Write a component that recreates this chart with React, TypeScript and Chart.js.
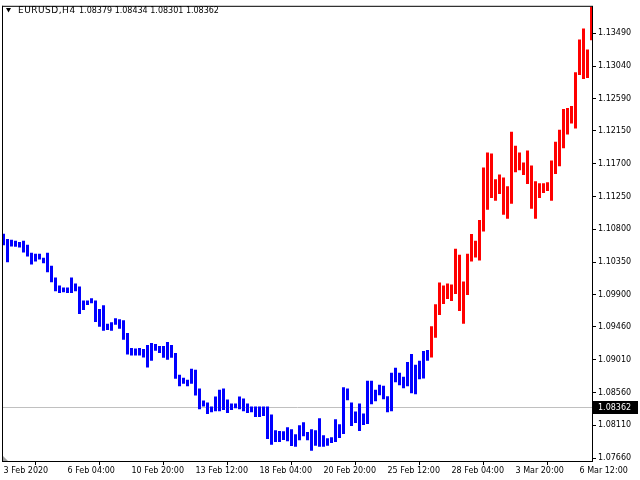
import React, { useEffect, useRef } from "react";
import { Chart, registerables } from "chart.js";

Chart.register(...registerables);

// ---- data -----------------------------------------------------------------
const highs = [
  1.1074, 1.10668, 1.10655, 1.10641, 1.10627, 1.10641, 1.10587, 1.10478, 1.10464, 1.10464,
  1.1041, 1.10478, 1.10301, 1.10137, 1.10029, 1.10001, 1.10001, 1.10137, 1.10056, 1.10015,
  1.09824, 1.09824, 1.09852, 1.09824, 1.09706, 1.09756, 1.09502, 1.09525, 1.09579, 1.09566,
  1.09552, 1.09375, 1.09171, 1.09162, 1.09171, 1.09157, 1.09212, 1.09239, 1.09225, 1.09198,
  1.09198, 1.09253, 1.09212, 1.09103, 1.08803, 1.08763, 1.08735, 1.08885, 1.08872, 1.08613,
  1.0845, 1.08422, 1.08368, 1.08504, 1.08599, 1.08613, 1.08463, 1.08409, 1.08409, 1.08504,
  1.08477, 1.08409, 1.08368, 1.08368, 1.08368, 1.08368, 1.08368, 1.08259, 1.08041, 1.08032,
  1.08028, 1.08082, 1.08055, 1.07987, 1.08109, 1.0815, 1.08018, 1.08055, 1.08041, 1.08205,
  1.07973, 1.07932, 1.07946, 1.08191, 1.08123, 1.08631, 1.08613, 1.08422, 1.083, 1.08409,
  1.08273, 1.08722, 1.08722, 1.08599, 1.08667, 1.08654, 1.08508, 1.08831, 1.08899, 1.08831,
  1.08776, 1.0898, 1.09089, 1.0894, 1.08994, 1.0913, 1.09144, 1.0947, 1.0977, 1.10069,
  1.10029, 1.10056, 1.10042, 1.10532, 1.1045, 1.10083, 1.10464, 1.10736, 1.10641, 1.10927,
  1.11648, 1.11852, 1.11839, 1.11485, 1.11553, 1.11512, 1.1139, 1.12138, 1.11948, 1.11852,
  1.11716, 1.1188, 1.11675, 1.11458, 1.1143, 1.1143, 1.11444, 1.11743, 1.12002, 1.12165,
  1.12451, 1.12465, 1.12492, 1.12955, 1.13404, 1.13554, 1.13268, 1.139,
];

const lows = [
  1.10582, 1.10346, 1.10563, 1.10559, 1.1055, 1.10482, 1.10427, 1.10318, 1.10359, 1.10386,
  1.10332, 1.1021, 1.10073, 1.09951, 1.09924, 1.09937, 1.09924, 1.09924, 1.09951, 1.09638,
  1.09692, 1.0976, 1.09784, 1.09529, 1.09461, 1.09407, 1.09416, 1.09407, 1.09488, 1.09434,
  1.09284, 1.0908, 1.09066, 1.09066, 1.09066, 1.09039, 1.08903, 1.08994, 1.09134, 1.09103,
  1.09035, 1.09008, 1.09035, 1.08749, 1.08644, 1.08681, 1.08644, 1.08681, 1.08518, 1.08331,
  1.08368, 1.08263, 1.0829, 1.08304, 1.08304, 1.08318, 1.08277, 1.08318, 1.08345, 1.08331,
  1.08304, 1.08277, 1.0829, 1.08222, 1.08222, 1.08236, 1.07923, 1.07841, 1.07882, 1.07882,
  1.07909, 1.07892, 1.07824, 1.07814, 1.07905, 1.0796, 1.07905, 1.0776, 1.0783, 1.07814,
  1.07814, 1.07828, 1.07868, 1.07882, 1.07936, 1.07991, 1.08454, 1.081, 1.08141, 1.08032,
  1.08113, 1.08127, 1.08399, 1.0844, 1.08522, 1.08467, 1.0829, 1.08304, 1.08699, 1.08658,
  1.08617, 1.08644, 1.08549, 1.08535, 1.0874, 1.08753, 1.08997, 1.09039, 1.09311, 1.09624,
  1.09774, 1.09842, 1.09815, 1.0991, 1.09679, 1.09502, 1.09897, 1.10359, 1.10414, 1.10373,
  1.10768, 1.11067, 1.1123, 1.1119, 1.11285, 1.10999, 1.10945, 1.11149, 1.11584, 1.11611,
  1.11545, 1.11421, 1.11081, 1.10945, 1.1123, 1.11298, 1.11326, 1.1119, 1.11557, 1.11666,
  1.11911, 1.12101, 1.12251, 1.12183, 1.12918, 1.12864, 1.12877, 1.13395,
];

const RED_FROM = 107; // bars from this index on are drawn red

const xTickIndex = [0, 16, 32, 48, 64, 80, 96, 112, 128, 144];
const xTickLabels = [
  "3 Feb 2020",
  "6 Feb 04:00",
  "10 Feb 20:00",
  "13 Feb 12:00",
  "18 Feb 04:00",
  "20 Feb 20:00",
  "25 Feb 12:00",
  "28 Feb 04:00",
  "3 Mar 20:00",
  "6 Mar 12:00",
];

const yTicks = [
  1.0766, 1.0811, 1.0856, 1.0901, 1.0946, 1.099, 1.1035, 1.108, 1.1125, 1.117,
  1.1215, 1.1259, 1.1304, 1.1349,
];

const symbolLabel = "EURUSD,H4";
const ohlcLabel = ["1.08379", "1.08434", "1.08301", "1.08362"];
const currentPrice = 1.08362;

const Y_MIN = 1.076196;
const Y_MAX = 1.138534;
const X_MIN = -0.125;
const X_MAX = 147.125;

const FONT = "DejaVu Sans";

// ---- decorations plugin -------------------------------------------------
const decor = {
  id: "mtDecor",
  beforeDatasetsDraw(chart: any) {
    const { ctx, chartArea } = chart;
    const y = Math.round(chart.scales.y.getPixelForValue(currentPrice)) + 0.5;
    ctx.save();
    ctx.strokeStyle = "#c0c0c0";
    ctx.lineWidth = 1;
    ctx.beginPath();
    ctx.moveTo(chartArea.left, y);
    ctx.lineTo(chartArea.right, y);
    ctx.stroke();
    ctx.restore();
  },
  afterDraw(chart: any) {
    const { ctx, chartArea } = chart;
    ctx.save();
    // frame (top + left; right and bottom come from the axes)
    ctx.fillStyle = "#000";
    ctx.fillRect(chartArea.left - 1, chartArea.top - 1, chartArea.right - chartArea.left + 2, 1);
    ctx.fillRect(chartArea.left - 1, chartArea.top - 1, 1, chartArea.bottom - chartArea.top + 2);

    // title
    ctx.beginPath();
    ctx.moveTo(6, 8);
    ctx.lineTo(11, 8);
    ctx.lineTo(8.5, 12.5);
    ctx.closePath();
    ctx.fill();
    ctx.textBaseline = "middle";
    ctx.textAlign = "left";
    ctx.font = `9px "${FONT}"`;
    (ctx as any).letterSpacing = "0.5px";
    ctx.fillText(symbolLabel, 18, 10.5);
    (ctx as any).letterSpacing = "0px";
    ctx.font = `8px "${FONT}"`;
    ctx.fillText(ohlcLabel.join(" "), 79, 10.5);

    // current price box on the axis
    const yp = chart.scales.y.getPixelForValue(currentPrice);
    const yb = Math.round(yp) - 6;
    ctx.fillStyle = "#000";
    ctx.fillRect(593, yb, 45, 13);
    ctx.fillStyle = "#fff";
    ctx.fillText(currentPrice.toFixed(5), 598, yb + 6.5);

    // chart-shift marker
    ctx.fillStyle = "#a0a0a0";
    ctx.beginPath();
    ctx.moveTo(chartArea.left, chartArea.bottom - 5);
    ctx.lineTo(chartArea.left, chartArea.bottom);
    ctx.lineTo(chartArea.left + 5, chartArea.bottom);
    ctx.closePath();
    ctx.fill();
    ctx.restore();
  },
};

export default function App() {
  const ref = useRef<HTMLCanvasElement>(null);

  useEffect(() => {
    if (!ref.current) return;
    const points = highs.map((h, i) => ({ x: i, y: [lows[i], h] }));
    const colors = highs.map((_, i) => (i >= RED_FROM ? "#ff0000" : "#0000ff"));
    const font = { family: FONT, size: 8 };

    const chart = new Chart(ref.current, {
      type: "bar",
      data: {
        datasets: [
          {
            data: points as any,
            backgroundColor: colors,
            borderWidth: 0,
            barThickness: 3,
            inflateAmount: 0,
          } as any,
        ],
      },
      options: {
        responsive: false,
        animation: false,
        events: [],
        layout: { padding: { top: 3, left: 3, right: 0, bottom: 0 } },
        plugins: {
          legend: { display: false },
          tooltip: { enabled: false },
        },
        scales: {
          x: {
            type: "linear",
            position: "bottom",
            min: X_MIN,
            max: X_MAX,
            bounds: "data",
            offset: false,
            grid: { drawOnChartArea: false, drawTicks: true, tickLength: 4, tickColor: "#000" },
            border: { display: true, color: "#000", width: 1 },
            ticks: {
              autoSkip: false,
              maxRotation: 0,
              minRotation: 0,
              align: "start",
              padding: 1,
              color: "#000",
              font,
              callback: (v: any) => {
                const k = xTickIndex.indexOf(Number(v));
                return k >= 0 ? xTickLabels[k] : "";
              },
            },
            afterBuildTicks: (s: any) => {
              s.ticks = xTickIndex.map((v) => ({ value: v }));
            },
            afterFit: (s: any) => {
              s.height = 19;
            },
          } as any,
          y: {
            type: "linear",
            position: "right",
            min: Y_MIN,
            max: Y_MAX,
            bounds: "data",
            grid: { drawOnChartArea: false, drawTicks: true, tickLength: 4, tickColor: "#000" },
            border: { display: true, color: "#000", width: 1 },
            ticks: {
              autoSkip: false,
              padding: 2,
              color: "#000",
              font,
              callback: (v: any) => Number(v).toFixed(5),
            },
            afterBuildTicks: (s: any) => {
              s.ticks = yTicks.map((v) => ({ value: v }));
            },
            afterFit: (s: any) => {
              s.width = 48;
            },
          } as any,
        },
      },
      plugins: [decor],
    });
    return () => chart.destroy();
  }, []);

  return (
    <div style={{ position: "absolute", left: 0, top: 0, width: 640, height: 480, background: "#fff" }}>
      <canvas ref={ref} width={640} height={480} style={{ width: 640, height: 480, display: "block" }} />
    </div>
  );
}
